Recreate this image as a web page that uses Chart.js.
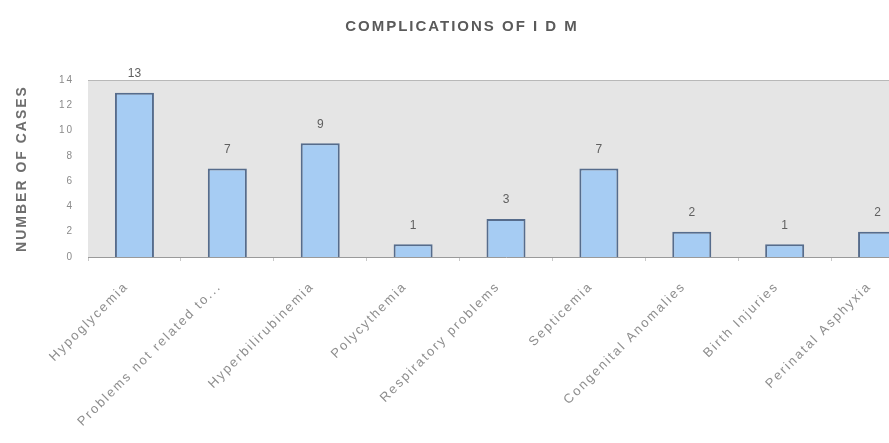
<!DOCTYPE html>
<html>
<head>
<meta charset="utf-8">
<script src="https://cdn.jsdelivr.net/npm/chart.js@4/dist/chart.umd.min.js"></script>
<style>
  html, body { margin: 0; padding: 0; background: #ffffff; overflow: hidden; }
  #wrap { width: 924px; height: 443px; position: relative; }
</style>
</head>
<body>
<div id="wrap"><canvas id="c"></canvas></div>
<script>
// Complications recorded in infants of diabetic mothers
const categories = [
  'Hypoglycemia',
  'Problems not related to...',
  'Hyperbilirubinemia',
  'Polycythemia',
  'Respiratory problems',
  'Septicemia',
  'Congenital Anomalies',
  'Birth Injuries',
  'Perinatal Asphyxia'
];
const cases = [13, 7, 9, 1, 3, 7, 2, 1, 2];
const yTicks = [0, 2, 4, 6, 8, 10, 12, 14];

const FONT = "'Liberation Sans', Arial, sans-serif";

// Grey plot panel, top frame line and value labels above the bars
const panelPlugin = {
  id: 'panel',
  beforeDraw(chart) {
    chart.ctx.letterSpacing = '2px';
    const { ctx, chartArea: a } = chart;
    ctx.save();
    ctx.fillStyle = '#e5e5e5';
    ctx.fillRect(a.left, a.top, a.right - a.left, a.bottom - a.top);
    ctx.strokeStyle = '#b8b8b8';
    ctx.lineWidth = 1;
    ctx.beginPath();
    ctx.moveTo(a.left, a.top + 0.5);
    ctx.lineTo(a.right, a.top + 0.5);
    ctx.stroke();
    ctx.restore();
  },
  afterDatasetsDraw(chart) {
    const { ctx } = chart;
    const meta = chart.getDatasetMeta(0);
    const values = chart.data.datasets[0].data;
    ctx.save();
    ctx.letterSpacing = '0px';
    ctx.fillStyle = '#606060';
    ctx.font = '12px ' + FONT;
    ctx.textAlign = 'center';
    ctx.textBaseline = 'bottom';
    meta.data.forEach((bar, i) => {
      ctx.fillText(String(values[i]), bar.x, bar.y - 13);
    });
    ctx.restore();
  }
};

new Chart(document.getElementById('c'), {
  type: 'bar',
  data: {
    labels: categories,
    datasets: [{
      data: cases,
      backgroundColor: '#a6ccf3',
      borderColor: '#566c8c',
      borderWidth: 2,
      borderSkipped: 'bottom',
      categoryPercentage: 1,
      barPercentage: 0.42
    }]
  },
  options: {
    responsive: true,
    maintainAspectRatio: false,
    animation: false,
    layout: { padding: { left: 0, right: 0, top: 0, bottom: 0 } },
    plugins: {
      legend: { display: false },
      tooltip: { enabled: false },
      title: {
        display: true,
        text: 'COMPLICATIONS OF I D M',
        color: '#5a5a5a',
        font: { family: FONT, size: 15, weight: 'bold' },
        padding: { top: 18, bottom: 44 }
      }
    },
    scales: {
      x: {
        grid: {
          offset: true,
          drawOnChartArea: false,
          drawTicks: true,
          tickLength: 4,
          color: '#c8c8c8'
        },
        border: { display: true, color: '#9a9a9a', width: 1 },
        ticks: {
          autoSkip: false,
          maxRotation: 45,
          minRotation: 45,
          padding: 18,
          labelOffset: -8,
          color: '#8e8e8e',
          font: { family: FONT, size: 13 }
        },
        afterFit(scale) { scale.height = 186; }
      },
      y: {
        min: 0,
        max: 14,
        afterBuildTicks(scale) { scale.ticks = yTicks.map(v => ({ value: v })); },
        grid: { display: false, drawTicks: false },
        border: { display: false },
        ticks: {
          padding: 14,
          color: '#8a8a8a',
          font: { family: FONT, size: 10 }
        },
        title: {
          display: true,
          text: 'NUMBER OF CASES',
          color: '#6e6e6e',
          font: { family: FONT, size: 14, weight: 'bold' },
          padding: { top: 14, bottom: 0 }
        },
        afterFit(scale) { scale.width = 88; }
      }
    }
  },
  plugins: [panelPlugin]
});
</script>
</body>
</html>
